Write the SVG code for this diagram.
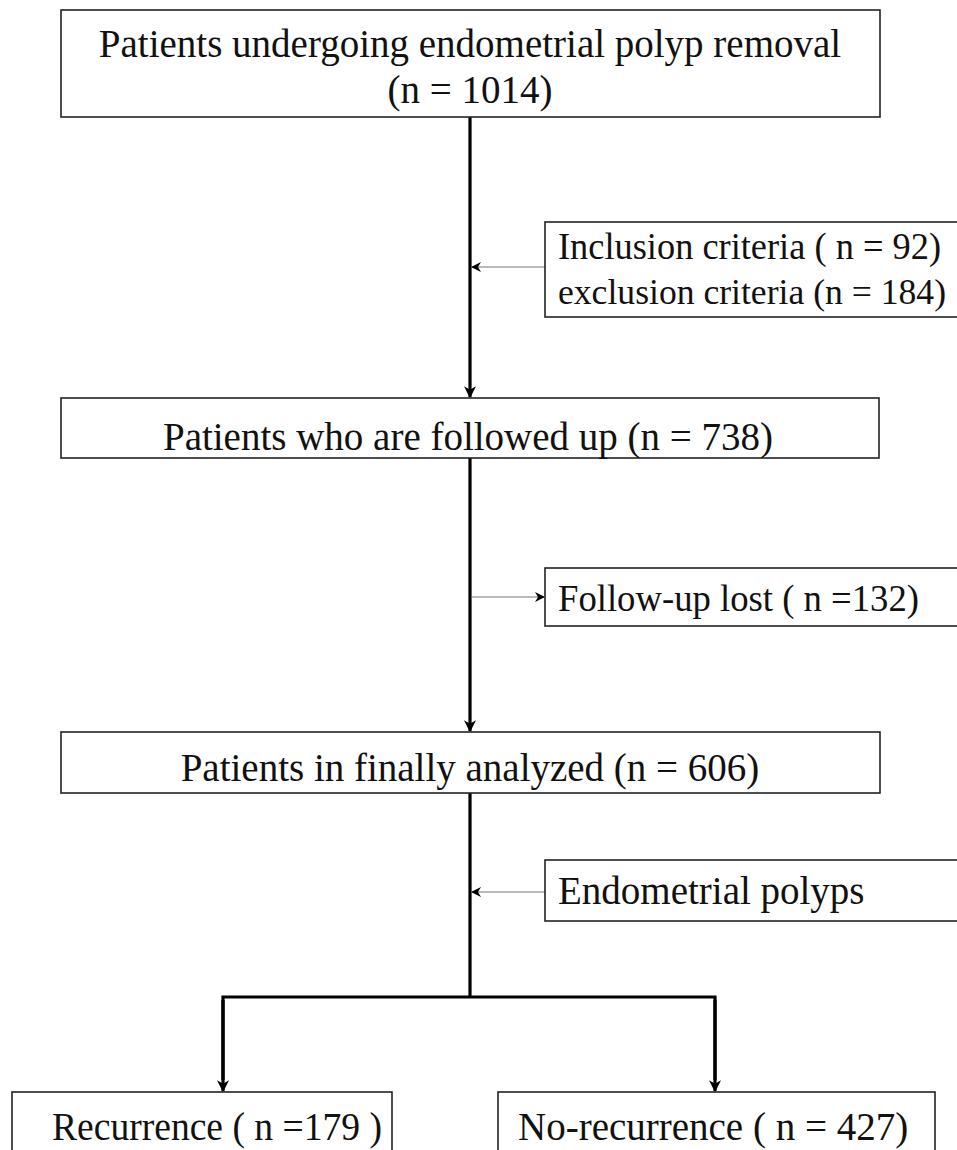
<svg xmlns="http://www.w3.org/2000/svg" width="957" height="1150" viewBox="0 0 957 1150">
<defs>
<style>
.box{fill:#fff;stroke:#222;stroke-width:1.6}
.t{font-family:"Liberation Serif","Times New Roman",serif;font-size:39px;fill:#111}
.s{font-size:37px}
.xs{font-size:36px}
.main{stroke:#000;stroke-width:3.2;fill:none}
.thin{stroke:#777;stroke-width:1.2;fill:none}
</style>
<marker id="ah" viewBox="0 0 10 10" refX="9" refY="5" markerWidth="10" markerHeight="10" markerUnits="userSpaceOnUse" orient="auto">
<path d="M0,0 L10,5 L0,10 L3,5 Z" fill="#000"/>
</marker>
<marker id="ahBig" viewBox="0 0 10 10" refX="9" refY="5" markerWidth="12" markerHeight="12" markerUnits="userSpaceOnUse" orient="auto">
<path d="M0,0 L10,5 L0,10 L3,5 Z" fill="#000"/>
</marker>
</defs>
<rect width="957" height="1150" fill="#fff"/>
<g id="connectors">
<line class="main" x1="470" y1="117" x2="470" y2="397" marker-end="url(#ahBig)"/>
<line class="main" x1="470" y1="458" x2="470" y2="731" marker-end="url(#ahBig)"/>
<polyline class="main" points="470,793 470,997"/>
<polyline class="main" points="223,1080 223,997 715,997 715,1080" stroke-linejoin="miter"/>
<line class="main" x1="223" y1="1000" x2="223" y2="1091" marker-end="url(#ahBig)"/>
<line class="main" x1="715" y1="1000" x2="715" y2="1091" marker-end="url(#ahBig)"/>
<line class="thin" x1="545" y1="267" x2="472" y2="267" marker-end="url(#ah)"/>
<line class="thin" x1="471" y1="597" x2="544" y2="597" marker-end="url(#ah)"/>
<line class="thin" x1="545" y1="892" x2="472" y2="892" marker-end="url(#ah)"/>
</g>
<g id="n1">
<rect class="box" x="61" y="10" width="819" height="107"/>
<text class="t" x="470" y="57" text-anchor="middle">Patients undergoing endometrial polyp removal</text>
<text class="t" x="470" y="103" text-anchor="middle">(n = 1014)</text>
</g>
<g id="n2">
<rect class="box" x="545" y="222" width="420" height="95"/>
<text class="t s" x="558" y="259" textLength="383" lengthAdjust="spacingAndGlyphs">Inclusion criteria ( n = 92)</text>
<text class="t xs" x="558" y="304" textLength="388" lengthAdjust="spacingAndGlyphs">exclusion criteria (n = 184)</text>
</g>
<g id="n3">
<rect class="box" x="61" y="398" width="818" height="60"/>
<text class="t" x="468" y="450" text-anchor="middle">Patients who are followed up (n = 738)</text>
</g>
<g id="n4">
<rect class="box" x="545" y="568" width="420" height="58"/>
<text class="t s" x="558" y="611" textLength="361" lengthAdjust="spacingAndGlyphs">Follow-up lost ( n =132)</text>
</g>
<g id="n5">
<rect class="box" x="61" y="732" width="819" height="61"/>
<text class="t" x="470" y="781" text-anchor="middle">Patients in finally analyzed (n = 606)</text>
</g>
<g id="n6">
<rect class="box" x="545" y="860" width="420" height="61"/>
<text class="t" x="558" y="904">Endometrial polyps</text>
</g>
<g id="n7">
<rect class="box" x="12" y="1092" width="380" height="80"/>
<text class="t" x="52" y="1140" textLength="330" lengthAdjust="spacingAndGlyphs">Recurrence ( n =179 )</text>
</g>
<g id="n8">
<rect class="box" x="498" y="1092" width="437" height="80"/>
<text class="t" x="518" y="1140">No-recurrence ( n = 427)</text>
</g>
</svg>
